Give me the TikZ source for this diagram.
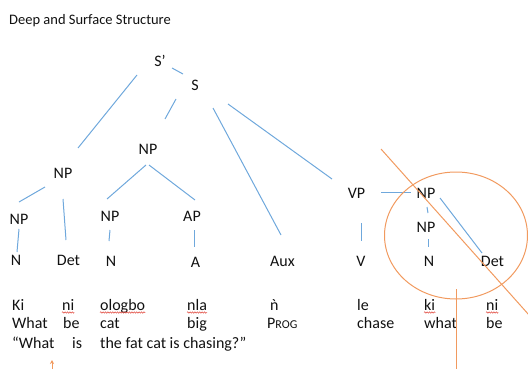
\documentclass[tikz,border=0pt]{standalone}
\usepackage{fontspec}
\setmainfont{Carlito}
\usepackage{tikz}
\usetikzlibrary{arrows.meta,decorations.pathmorphing}
\definecolor{ink}{HTML}{111111}
\definecolor{branchblue}{HTML}{6FA8DC}
\definecolor{markorange}{HTML}{F19A5F}
\definecolor{spellred}{HTML}{E0453A}

\begin{document}
\begin{tikzpicture}[x=1pt,y=-1pt,font=\fontsize{16}{18}\selectfont,
  cat/.style={inner sep=0pt,text=ink},
  word/.style={inner sep=0pt,anchor=base west,text=ink},
  branch/.style={draw=branchblue,line width=1pt},
  markline/.style={draw=markorange,line width=1pt},
  squiggle/.style={draw=spellred,line width=0.5pt,decorate,
    decoration={snake,amplitude=0.7pt,segment length=2.4pt}}]
\useasboundingbox (0,0) rectangle (528,369);
\node[word,font=\fontsize{14.5}{17}\selectfont] (title) at (9,25) {Deep and Surface Structure};

% tree labels
\node[cat] (Sp) at (160,61) {S’};
\node[cat] (S) at (195,85.5) {S};
\node[cat] (NPa) at (148,149.5) {NP};
\node[cat] (NPb) at (63,173.5) {NP};
\node[cat] (NPc) at (19,219.5) {NP};
\node[cat] (N1) at (16,260.5) {N};
\node[cat] (Det1) at (68.5,260.5) {Det};
\node[cat] (NPd) at (110,216) {NP};
\node[cat] (AP) at (192,216) {AP};
\node[cat] (N2) at (111,261.5) {N};
\node[cat] (A) at (195.5,262) {A};
\node[cat] (Aux) at (282.5,261.5) {Aux};
\node[cat] (VP) at (356.5,193.5) {VP};
\node[cat] (V) at (361,261.5) {V};
\node[cat] (NPe) at (426,193.5) {NP};
\node[cat] (NPf) at (426,227.5) {NP};
\node[cat] (N3) at (429,261.5) {N};
\node[cat] (Det2) at (492.5,261.5) {Det};

% branches
\draw[branch] ([shift={(12,7)}]Sp.center) -- ([shift={(-12,-11.5)}]S.center);
\draw[branch] ([shift={(-23,14)}]Sp.center) -- ([shift={(15,-25.5)}]NPb.center);
\draw[branch] ([shift={(-19,13.5)}]S.center) -- ([shift={(17,-30.5)}]NPa.center);
\draw[branch] ([shift={(18,22.5)}]S.center) -- ([shift={(-1.5,-26.5)}]Aux.center);
\draw[branch] ([shift={(33,18.5)}]S.center) -- ([shift={(-24.5,-14.5)}]VP.center);
\draw[branch] ([shift={(-2,15.5)}]NPa.center) -- ([shift={(-3,-17)}]NPd.center);
\draw[branch] ([shift={(1,15.5)}]NPa.center) -- ([shift={(3,-16)}]AP.center);
\draw[branch] ([shift={(-18,13.5)}]NPb.center) -- ([shift={(0,-17.5)}]NPc.center);
\draw[branch] ([shift={(0,25.5)}]NPb.center) -- ([shift={(-2.5,-20.5)}]Det1.center);
\draw[branch] ([shift={(0,9.5)}]NPc.center) -- ([shift={(1,-8.5)}]N1.center);
\draw[branch] ([shift={(0,14)}]NPd.center) -- ([shift={(-2,-20.5)}]N2.center);
\draw[branch] ([shift={(2,14)}]AP.center) -- ([shift={(-1.5,-15)}]A.center);
\draw[branch] ([shift={(24.5,-1.5)}]VP.center) -- ([shift={(-15,-1.5)}]NPe.center);
\draw[branch] ([shift={(4.5,29.5)}]VP.center) -- ([shift={(0,-20.5)}]V.center);
\draw[branch] ([shift={(1,13.5)}]NPe.center) -- ([shift={(2,-14.5)}]NPf.center);
\draw[branch] ([shift={(2,11.5)}]NPf.center) -- ([shift={(-1,-14.5)}]N3.center);
\draw[branch] ([shift={(14,4.5)}]NPe.center) -- ([shift={(-10.5,-8.5)}]Det2.center);

% glosses
\node[word] (yoKi) at (12,310) {Ki};
\node[word] (yoNi) at (62,310) {ni};
\node[word] (yoOlogbo) at (100,310) {ologbo};
\node[word] (yoNla) at (187,310) {nla};
\node[word] (yoN) at (270,310) {ǹ};
\node[word] (yoLe) at (357,310) {le};
\node[word] (yoKiB) at (424,310) {ki};
\node[word] (yoNiB) at (486,310) {ni};
\node[word] (enWhat) at (12,328.5) {What};
\node[word] (enBe) at (63,328.5) {be};
\node[word] (enCat) at (100,328.5) {cat};
\node[word] (enBig) at (187,328.5) {big};
\node[word] (enProg) at (267,328.5) {P{\fontsize{12}{12}\selectfont ROG}};
\node[word] (enChase) at (357,328.5) {chase};
\node[word] (enWhatB) at (424,328.5) {what};
\node[word] (enBeB) at (486,328.5) {be};
\node[word] (trWhat) at (12,348) {“What};
\node[word] (trIs) at (72,348) {is};
\node[word] (trRest) at (100,348) {the fat cat is chasing?”};

% spell-check underlines
\foreach \w in {yoNi,yoOlogbo,yoNla,yoKiB,yoNiB}
  \draw[squiggle] ([yshift=-2.5pt]\w.base west) -- ([yshift=-2.5pt]\w.base east);

% orange marks
\draw[markline] (456,235.5) ellipse [x radius=71.5, y radius=63.5];
\draw[markline] (381,149) -- (529,315);
\draw[markline] (456,289) -- (456,370);
\coordinate (arrTail) at (52,369);
\coordinate (arrTip) at (52,360);
\draw[markline,line width=0.8pt,-{Stealth[length=4pt,width=4pt]}] (arrTail) -- (arrTip);
\end{tikzpicture}
\end{document}
